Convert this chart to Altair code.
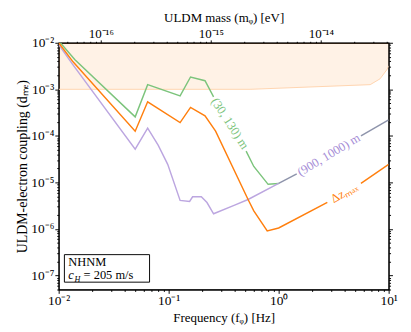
import altair as alt
import pandas as pd

# ---------------- data ----------------
# (30, 130) m curve (green), split where its label sits
green_f_a = [0.0100, 0.01406, 0.0496, 0.0644, 0.127, 0.158, 0.214, 0.256]
green_d_a = [1.10e-2, 4.3e-3, 2.56e-4, 1.26e-3, 7.2e-4, 1.84e-3, 1.53e-3, 6.9e-4]
green_f_b = [0.506, 0.594, 0.802, 1.0]
green_d_b = [4.7e-5, 2.2e-5, 9.1e-6, 9.5e-6]

# Delta z_max curve (orange)
orange_f_a = [0.0100, 0.0135, 0.0496, 0.0644, 0.127, 0.158, 0.214, 0.267, 0.527, 0.594, 0.787, 1.0, 2.77]
orange_d_a = [1.00e-2, 3.9e-3, 1.26e-4, 5.4e-4, 1.93e-4, 4.1e-4, 2.69e-4, 1.26e-4, 4.3e-6, 2.44e-6, 9.1e-7, 1.05e-6, 3.72e-6]
orange_f_b = [5.6, 10.0]
orange_d_b = [9.5e-6, 2.44e-5]

# (900, 1000) m curve (purple)
purple_f = [0.0100, 0.01324, 0.0496, 0.0644, 0.0802, 0.098, 0.127, 0.155, 0.165, 0.198, 0.223, 0.256, 0.398, 0.527, 1.0]
purple_d = [9.1e-3, 3.56e-3, 5.2e-5, 1.46e-4, 6.3e-5, 2.44e-5, 4.1e-6, 3.9e-6, 4.9e-6, 4.9e-6, 3.7e-6, 2.12e-6, 3.24e-6, 4.3e-6, 9.5e-6]

# part where green and purple coincide (drawn grey-blue)
shared_f_a = [1.0, 1.46]
shared_d_a = [9.5e-6, 1.53e-5]
shared_f_b = [5.6, 10.0]
shared_d_b = [1.0e-4, 2.2e-4]

# excluded (shaded) region: lower boundary, upper edge
excl_f = [0.01, 0.55, 6.8, 8.35, 9.7, 10.0]
excl_d = [1.0e-3, 1.0e-3, 1.26e-3, 1.68e-3, 2.7e-3, 3.2e-3]
excl_top = [1e-2, 1e-2, 1e-2, 1e-2, 1e-2, 1e-2]

# inline curve labels
label_text = ["(30, 130) m", "(900, 1000) m", "Δzₘₐₓ"]
label_f = [0.360, 2.86, 3.95]
label_d = [1.84e-4, 3.9e-5, 5.97e-6]
label_angle = [57, 329, 330]
label_color = ["#7cc47c", "#a58cd6", "#ff7f0e"]

mass_ticks = [1e-16, 1e-15, 1e-14]
H_EV = 4.135667e-15  # Planck constant in eV s: m = h f

F_DOM = [0.01, 10.0]
D_DOM = [5e-8, 1e-2]

FONT = "Liberation Serif"


def minor_values(lo, hi):
    out = []
    e = -20
    while e <= 3:
        for m in range(1, 10):
            v = float(f"{m}e{e}")
            if lo * (1 - 1e-9) <= v <= hi * (1 + 1e-9):
                out.append(v)
        e += 1
    return out


LOGV = "(log(datum.value)/LN10)"
ISDEC = f"abs({LOGV} - round({LOGV})) < 0.01"
SUP = "['⁰','¹','²','³','⁴','⁵','⁶','⁷','⁸','⁹']"
EXP = f"round({LOGV})"
LABEL_EXPR = (
    f"{ISDEC} ? ('10' + ({EXP} < 0 ? '⁻' : '') + "
    f"(abs({EXP}) >= 10 ? {SUP}[floor(abs({EXP})/10)] : '') + "
    f"{SUP}[abs({EXP}) % 10]) : ''"
)


def log_axis(title, values, orient, title_pad, title_size=13, major=4, minor=2,
             labels=True, label_pad=1, label_size=14):
    return alt.Axis(
        title=title if title is not None else "",
        values=values, orient=orient, labelExpr=LABEL_EXPR,
        tickSize={"condition": {"test": ISDEC, "value": major}, "value": minor},
        labelOverlap=False, labelFlush=False, grid=False, labels=labels,
        labelFont=FONT, titleFont=FONT, labelFontSize=label_size, titleFontSize=title_size,
        titleFontWeight="normal", labelColor="black", titleColor="black",
        domainColor="black", tickColor="black", labelPadding=label_pad,
        titlePadding=title_pad,
    )


# ---------------- tables ----------------
def seg(series, part, fs, ds):
    return pd.DataFrame({"series": series, "part": part, "f": fs, "d": ds})


lines_df = pd.concat([
    seg("green", "g1", green_f_a, green_d_a),
    seg("green", "g2", green_f_b, green_d_b),
    seg("purple", "p1", purple_f, purple_d),
    seg("orange", "o1", orange_f_a, orange_d_a),
    seg("orange", "o2", orange_f_b, orange_d_b),
    seg("shared", "s1", shared_f_a, shared_d_a),
    seg("shared", "s2", shared_f_b, shared_d_b),
], ignore_index=True)

excl_df = pd.DataFrame({"f": excl_f, "d": excl_d, "top": excl_top})
labels_df = pd.DataFrame({"f": label_f, "d": label_d, "t": label_text,
                          "a": label_angle, "c": label_color})

x_scale = alt.Scale(type="log", domain=F_DOM, nice=False)
y_scale = alt.Scale(type="log", domain=D_DOM, nice=False)
x_enc = alt.X("f:Q", scale=x_scale,
              axis=log_axis("Frequency (fᵩ) [Hz]", minor_values(*F_DOM), "bottom", 3,
                            title_size=13.5))
y_enc = alt.Y("d:Q", scale=y_scale,
              axis=log_axis("ULDM-electron coupling (dₘₑ)", minor_values(*D_DOM), "left", 2,
                            title_size=14.5))

area = alt.Chart(excl_df).mark_area(color="#ff7f0e", opacity=0.1, clip=True).encode(
    x=x_enc, y=y_enc, y2="top:Q")
bound = alt.Chart(excl_df).mark_line(color="#ffd3ad", strokeWidth=1, clip=True).encode(
    x=x_enc, y=y_enc)

lines = alt.Chart(lines_df).mark_line(strokeWidth=1.5, clip=True).encode(
    x=x_enc, y=y_enc,
    color=alt.Color("series:N", legend=None,
                    scale=alt.Scale(domain=["green", "purple", "orange", "shared"],
                                    range=["#7cc47c", "#bca6e0", "#ff7f0e", "#8e94ab"])),
    detail="part:N",
)

labels = alt.Chart(labels_df).mark_text(font=FONT, fontSize=13, align="center",
                                        baseline="middle").encode(
    x=x_enc, y=y_enc, text="t:N",
    angle=alt.Angle("a:Q", scale=None),
    color=alt.Color("c:N", scale=None),
)

# annotation box
box_df = pd.DataFrame({"f": [0.01127], "f2": [0.0670], "d": [2.81e-7], "d2": [7.2e-8]})
box = alt.Chart(box_df).mark_rect(fill="white", stroke="black", strokeWidth=1).encode(
    x=x_enc, x2="f2:Q", y=y_enc, y2="d2:Q")

txt_df = pd.DataFrame({"f": [0.01222], "d1": [1.95e-7], "d": [1.0e-7]})
t_nhnm = alt.Chart(txt_df).mark_text(font=FONT, fontSize=13, align="left",
                                     baseline="middle", color="black").encode(
    x=x_enc, y=alt.Y("d1:Q", scale=y_scale), text=alt.value("NHNM"))
t_c = alt.Chart(txt_df).mark_text(font=FONT, fontSize=13, align="left", fontStyle="italic",
                                  baseline="middle", color="black").encode(
    x=x_enc, y=y_enc, text=alt.value("c"))
t_h = alt.Chart(txt_df).mark_text(font=FONT, fontSize=8.5, align="left", fontStyle="italic",
                                  baseline="middle", color="black", dx=6.5, dy=3.5).encode(
    x=x_enc, y=y_enc, text=alt.value("H"))
t_rest = alt.Chart(txt_df).mark_text(font=FONT, fontSize=13, align="left",
                                     baseline="middle", color="black", dx=16).encode(
    x=x_enc, y=y_enc, text=alt.value("= 205 m/s"))

main = alt.layer(area, bound, lines, labels, box, t_nhnm, t_c, t_h, t_rest)

mass_df = pd.DataFrame({"m": mass_ticks})
m_dom = [F_DOM[0] * H_EV, F_DOM[1] * H_EV]
top = alt.Chart(mass_df).mark_point(opacity=0, size=1).encode(
    x=alt.X("m:Q", scale=alt.Scale(type="log", domain=m_dom, nice=False),
            axis=log_axis("ULDM mass (mᵩ) [eV]", minor_values(*m_dom), "top", 2,
                          title_size=13.5, major=3, minor=1.5, label_pad=0,
                          label_size=13.5)),
    y=alt.Y(datum=1e-3, type="quantitative", scale=alt.Scale(type="log", domain=D_DOM, nice=False),
            axis=log_axis(None, minor_values(*D_DOM), "right", 0, labels=False)),
)

chart = alt.layer(main, top).resolve_scale(x="independent", y="independent").properties(
    width=345, height=258,
    padding={"left": 7, "top": -4, "right": 5, "bottom": 0},
).configure_view(stroke="black", strokeWidth=1.2)

chart.save("out.html", embed_options={"renderer": "svg", "actions": False})
